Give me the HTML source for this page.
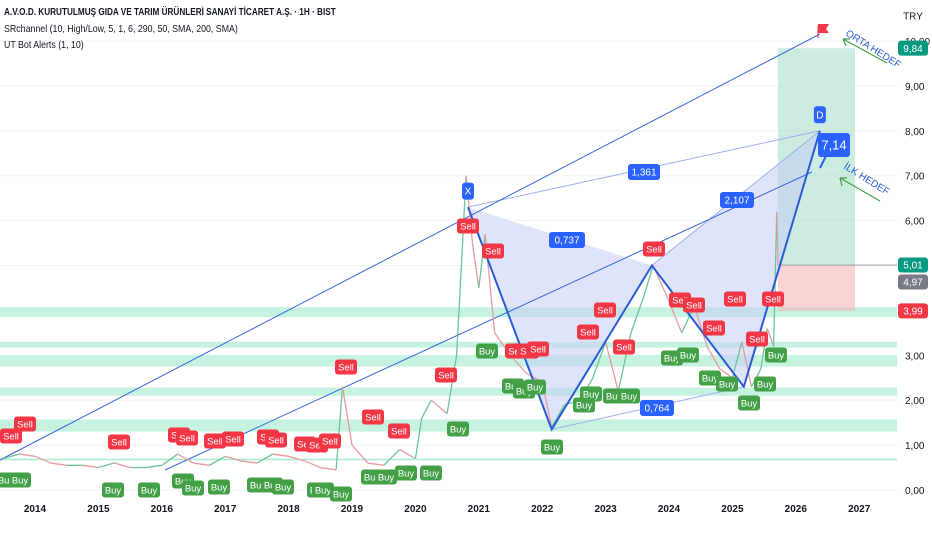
<!DOCTYPE html>
<html><head><meta charset="utf-8">
<style>
body{margin:0;background:#fff;font-family:"Liberation Sans","Noto Sans CJK SC",sans-serif;}
#wrap{position:relative;width:932px;height:550px;overflow:hidden;background:#fff;}
svg{position:absolute;left:0;top:0;z-index:1;}
.hdr{position:absolute;left:4px;font-size:10.5px;color:#131722;white-space:nowrap;z-index:2;transform-origin:0 0;}
</style></head><body>
<div id="wrap">
<div class="hdr" style="top:6px;font-weight:bold;transform:scaleX(0.78)">A.V.O.D. KURUTULMUŞ GIDA VE TARIM ÜRÜNLERİ SANAYİ TİCARET A.Ş. · 1H · BIST</div>
<div class="hdr" style="top:23px;transform:scaleX(0.84)">SRchannel (10, High/Low, 5, 1, 6, 290, 50, SMA, 200, SMA)</div>
<div class="hdr" style="top:39px;transform:scaleX(0.84)">UT Bot Alerts (1, 10)</div>
<svg id="chart" width="932" height="550"></svg>
</div>
<script>
// ---- data ----
const dates=[2013.5,2013.75,2014,2014.25,2014.5,2014.75,2015,2015.25,2015.5,2015.75,2016,2016.25,2016.5,2016.75,2017,2017.25,2017.5,2017.75,2018,2018.25,2018.5,2018.75,2018.85,2019,2019.25,2019.5,2019.75,2020,2020.1,2020.25,2020.5,2020.65,2020.8,2020.9,2021,2021.1,2021.25,2021.5,2021.75,2022,2022.15,2022.35,2022.6,2022.8,2023,2023.2,2023.4,2023.6,2023.75,2024,2024.2,2024.4,2024.6,2024.8,2025,2025.15,2025.3,2025.45,2025.55,2025.65,2025.7,2025.72];
const prices=[0.7,0.8,0.75,0.6,0.55,0.55,0.5,0.6,0.5,0.5,0.55,0.8,0.6,0.55,0.75,0.65,0.6,0.8,0.75,0.65,0.5,0.45,2.3,1.0,0.6,0.55,0.9,0.7,1.6,2.0,1.7,3.0,7.0,5.5,4.5,5.7,3.5,3.0,2.6,2.4,1.4,1.9,2.0,2.5,3.3,2.2,3.5,4.3,5.0,4.2,3.5,4.1,3.2,2.7,2.5,3.3,2.3,2.7,3.6,3.2,6.2,5.0];
const yTicks=[0,1,2,3,4,5,6,7,8,9,10];
const xTicks=[2014,2015,2016,2017,2018,2019,2020,2021,2022,2023,2024,2025,2026,2027];
const zonesLow=[3.85,3.17,2.75,2.1,1.3];
const zonesHigh=[4.07,3.3,3.0,2.28,1.57];
const patNames=["X","A","B","C","D"];
const patDates=[2020.83,2022.15,2023.73,2025.18,2026.38];
const patPrices=[6.3,1.35,5.0,2.3,8.0];
// ---- scales ----
const X=d=>35+(d-2014)*63.4;
const Y=v=>490-44.9*v;
const svg=document.getElementById('chart');
const NS='http://www.w3.org/2000/svg';
function mk(tag,attrs,parent){const e=document.createElementNS(NS,tag);for(const k in attrs)e.setAttribute(k,attrs[k]);(parent||svg).appendChild(e);return e;}
// grid
yTicks.forEach(v=>{const l=mk('line',{x1:0,x2:897,y1:Y(v),y2:Y(v),stroke:'#f0f3fa'});

});
// zones
zonesLow.forEach((lo,i)=>{const r=mk('rect',{x:0,y:Y(zonesHigh[i]),width:897,height:Y(lo)-Y(zonesHigh[i]),fill:'#a8ecd0',opacity:0.65});

});
mk('line',{x1:0,x2:897,y1:Y(0.68),y2:Y(0.68),stroke:'#a8ecd0','stroke-width':1.5});
// position tool
const pT=mk('rect',{x:778,y:Y(9.84),width:77,height:Y(5.01)-Y(9.84),fill:'#8fd4b8',opacity:0.45});


const pS=mk('rect',{x:778,y:Y(5.01),width:77,height:Y(3.99)-Y(5.01),fill:'#f7b5b8',opacity:0.6});


mk('line',{x1:778,x2:897,y1:Y(5.01),y2:Y(5.01),stroke:'#999','stroke-width':0.8});
// pattern
const P=patDates.map((d,i)=>[X(d),Y(patPrices[i])]);
const f1=mk('polygon',{points:[P[0],P[1],P[2]].map(p=>p.join(',')).join(' '),fill:'#c5cdf5',opacity:0.55});


const f2=mk('polygon',{points:[P[2],P[3],P[4]].map(p=>p.join(',')).join(' '),fill:'#c5cdf5',opacity:0.55});


mk('line',{x1:P[0][0],y1:P[0][1],x2:P[4][0],y2:P[4][1],stroke:'#9fb0ee','stroke-width':1});
mk('line',{x1:P[2][0],y1:P[2][1],x2:P[4][0],y2:P[4][1],stroke:'#9fb0ee','stroke-width':1});
mk('line',{x1:P[1][0],y1:P[1][1],x2:P[3][0],y2:P[3][1],stroke:'#9fb0ee','stroke-width':1});
// trend lines
mk('line',{x1:0,y1:460,x2:820,y2:34,stroke:'#3a66e0','stroke-width':1});
mk('line',{x1:165,y1:470,x2:812,y2:172,stroke:'#3a66e0','stroke-width':1});
// price
for(let i=1;i<dates.length;i++){const up=prices[i]>=prices[i-1];
const s=mk('line',{x1:X(dates[i-1]),y1:Y(prices[i-1]),x2:X(dates[i]),y2:Y(prices[i]),stroke:up?'#6cc49a':'#e89a9d','stroke-width':1.3});

}
// pattern legs
const leg=mk('polyline',{points:P.slice(0,5).map(p=>p.join(',')).join(' '),fill:'none',stroke:'#2a5bd7','stroke-width':2});


function box(x,y,w,h,fill,txt,name,fs,col){const g=mk('g',{});


mk('rect',{x:x-w/2,y:y-h/2,width:w,height:h,rx:3,fill:fill},g);
const t=mk('text',{x:x,y:y+fs*0.36,'text-anchor':'middle','font-size':fs,fill:col||'#fff','font-family':'Liberation Sans, sans-serif'},g);t.textContent=txt;return g;}
patNames.forEach((n,i)=>{if(n==='X'||n==='D')box(P[i][0],P[i][1]-16,12,17,'#2962ff',n,'point-'+n.toLowerCase(),10);});
box(567,240,36,16,'#2962ff','0,737','ratio-xb',10);
box(644,172,32,16,'#2962ff','1,361','ratio-xd',10);
box(737,200,34,16,'#2962ff','2,107','ratio-bd',10);
box(657,408,34,16,'#2962ff','0,764','ratio-ac',10);
box(834,145,32,24,'#2962ff','7,14','target-callout',13);
mk('line',{x1:826,y1:156,x2:820,y2:168,stroke:'#2962ff','stroke-width':2});
// flag
mk('line',{x1:818,y1:26,x2:818,y2:38,stroke:'#e33','stroke-width':1});
mk('polygon',{points:'818,24 829,24 826,29 829,33 818,33',fill:'#f23645'});
// hedef annotations
const t1=mk('text',{x:845,y:35,fill:'#2a5bd7','font-size':10,transform:'rotate(32 845 35)'});t1.textContent='ORTA HEDEF';


mk('path',{d:'M887,63 L843,39 M843,39 L850,39 M843,39 L846,46',stroke:'#43a047',fill:'none','stroke-width':1.2});
const t2=mk('text',{x:843,y:168,fill:'#2a5bd7','font-size':10,transform:'rotate(32 843 168)'});t2.textContent='İLK HEDEF';


mk('path',{d:'M880,201 L840,178 M840,178 L847,178 M840,178 L842,186',stroke:'#43a047',fill:'none','stroke-width':1.2});
// signals
const sells=[[11,436],[25,424],[119,442],[179,435],[187,438],[215,441],[233,439],[268,437],[276,440],[305,444],[317,445],[330,441],[346,367],[373,417],[399,431],[446,375],[468,226],[493,251],[516,351],[528,351],[538,349],[605,310],[588,332],[624,347],[654,249],[680,300],[694,305],[714,328],[735,299],[757,339],[773,299]];
const buys=[[6,480],[20,480],[113,490],[149,490],[183,481],[193,488],[219,487],[258,485],[272,485],[283,487],[318,490],[323,490],[341,494],[372,477],[386,477],[406,473],[431,473],[458,429],[487,351],[513,386],[524,391],[535,387],[552,447],[591,394],[584,405],[614,396],[629,396],[672,358],[688,355],[710,378],[727,384],[749,403],[765,384],[776,355]];
sells.forEach(p=>box(p[0],p[1],22,15,'#f23645','Sell','sell-signal',9.5));
buys.forEach(p=>box(p[0],p[1],22,15,'#43a047','Buy','buy-signal',9.5));
// axes
yTicks.forEach(v=>{const t=mk('text',{x:905,y:Y(v)+4,'font-size':10,fill:'#131722'});t.textContent=v.toFixed(2).replace('.',',');

});
xTicks.forEach(d=>{const t=mk('text',{x:X(d),y:512,'text-anchor':'middle','font-size':10,'font-weight':'bold',fill:'#131722'});t.textContent=d;

});
// price tags
box(913,Y(9.84),30,15,'#089981','9,84','price-tag-target',10);
box(913,Y(5.01),30,15,'#089981','5,01','price-tag-last',10);
box(913,282,30,15,'#787b86','4,97','price-tag-prev',10);
box(913,Y(3.99),30,15,'#f23645','3,99','price-tag-stop',10);
const tr=box(913,16,26,18,'#fff','TRY','currency-button',10,'#131722');
</script>
</body></html>
